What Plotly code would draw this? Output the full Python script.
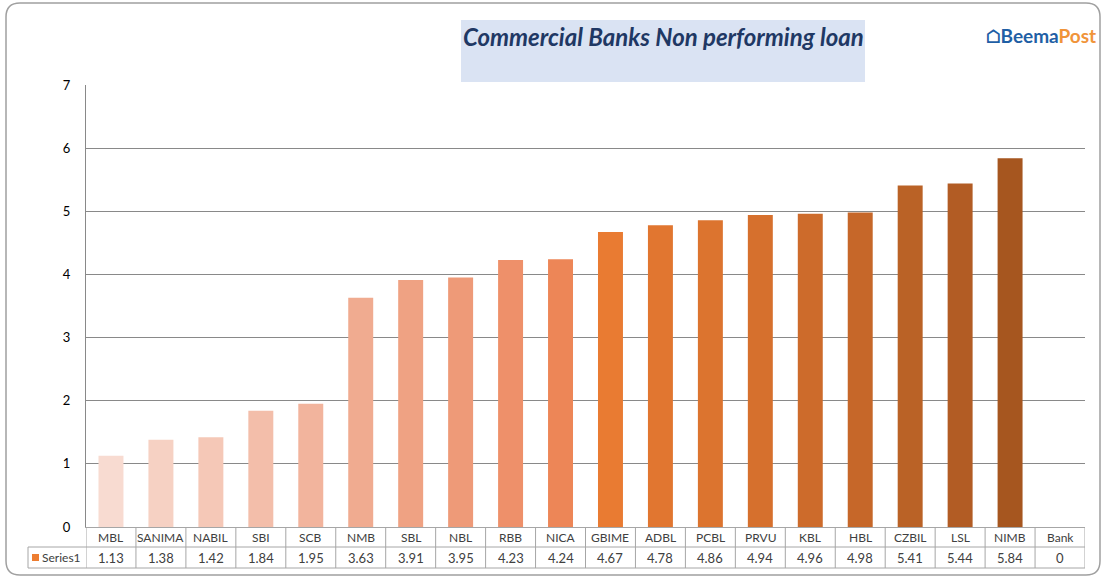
import plotly.graph_objects as go

banks = ["MBL", "SANIMA", "NABIL", "SBI", "SCB", "NMB", "SBL", "NBL", "RBB", "NICA",
         "GBIME", "ADBL", "PCBL", "PRVU", "KBL", "HBL", "CZBIL", "LSL", "NIMB", "Bank"]
npl = [1.13, 1.38, 1.42, 1.84, 1.95, 3.63, 3.91, 3.95, 4.23, 4.24,
       4.67, 4.78, 4.86, 4.94, 4.96, 4.98, 5.41, 5.44, 5.84, 0]
y_ticks = [0, 1, 2, 3, 4, 5, 6, 7]
series_name = "Series1"
title = "Commercial Banks Non performing loan"

bar_colors = ["#F8DBD1", "#F6D1C3", "#F5C8B7", "#F3BEAA", "#F2B49D", "#F0AB90", "#EFA283",
              "#EE9A78", "#EE906A", "#ED8657", "#E97B32", "#E17630", "#DC742F", "#D6702D",
              "#CD6B2B", "#C66729", "#BA6226", "#B25C24", "#A6561F", "#A6561F"]

W, H = 1105, 578
L, R, T, B = 86, 20, 85, 51
PW, PH = W - L - R, H - T - B

def px(x):
    return (x - L) / PW

def py(y):
    return (H - B - y) / PH

FONT = "Lato, Calibri, sans-serif"
grid_c = "#898989"
tab_c = "#A6A6A6"
txt_c = "#404040"

fig = go.Figure()
fig.add_trace(go.Bar(x=banks, y=npl, marker=dict(color=bar_colors, line=dict(width=0)),
                     width=0.5, name=series_name, showlegend=False, hoverinfo="x+y"))

shapes = []
annotations = []
n = len(banks)
# table lines
row1_top, row1_bot, row2_bot = 527, 547, 568
for i in range(n + 1):
    shapes.append(dict(type="line", xref="x", yref="paper", x0=i - 0.5, x1=i - 0.5,
                       y0=py(row1_top), y1=py(row2_bot), line=dict(color=tab_c, width=1)))
shapes.append(dict(type="line", xref="paper", yref="paper", x0=px(28), x1=px(28),
                   y0=py(row1_bot), y1=py(row2_bot), line=dict(color=tab_c, width=1)))
for yy in (row1_bot, row2_bot):
    shapes.append(dict(type="line", xref="paper", yref="paper", x0=px(28), x1=1,
                       y0=py(yy), y1=py(yy), line=dict(color=tab_c, width=1)))
# legend key
shapes.append(dict(type="rect", xref="paper", yref="paper", x0=px(32), x1=px(39),
                   y0=py(561), y1=py(554), fillcolor="#ED7D31", line=dict(width=0)))
annotations.append(dict(x=px(40), y=py(557.5), xref="paper", yref="paper", text=series_name,
                        showarrow=False, xanchor="left", yanchor="middle",
                        font=dict(family=FONT, size=12, color=txt_c)))
for b, v in zip(banks, npl):
    annotations.append(dict(x=b, y=py(537), xref="x", yref="paper", text=b, showarrow=False,
                            xanchor="center", yanchor="middle",
                            font=dict(family=FONT, size=12, color=txt_c)))
    annotations.append(dict(x=b, y=py(557.5), xref="x", yref="paper", text=f"{v:g}",
                            showarrow=False, xanchor="center", yanchor="middle",
                            font=dict(family=FONT, size=13, color=txt_c)))

# title box
shapes.append(dict(type="rect", xref="paper", yref="paper", x0=px(461), x1=px(865),
                   y0=py(82), y1=py(20), fillcolor="#DAE3F3", line=dict(width=0), layer="below"))
annotations.append(dict(x=px(663), y=py(37), xref="paper", yref="paper",
                        text="<b><i>" + title + "</i></b>", showarrow=False,
                        xanchor="center", yanchor="middle",
                        font=dict(family=FONT, size=24, color="#1F3864")))
# logo
annotations.append(dict(x=px(1098), y=py(36), xref="paper", yref="paper",
                        text="<b><span style='color:#1F5FA5'>\u2302Beema</span><span style='color:#F0943A'>Post</span></b>",
                        showarrow=False, xanchor="right", yanchor="middle",
                        font=dict(family=FONT, size=19)))

# outer rounded border
x0, x1, y0, y1, r = 6, 1100, 3, 575, 14
def P(x, y):
    return f"{px(x)} {py(y)}"
path = (f"M {P(x0 + r, y0)} L {P(x1 - r, y0)} Q {P(x1, y0)} {P(x1, y0 + r)} "
        f"L {P(x1, y1 - r)} Q {P(x1, y1)} {P(x1 - r, y1)} L {P(x0 + r, y1)} "
        f"Q {P(x0, y1)} {P(x0, y1 - r)} L {P(x0, y0 + r)} Q {P(x0, y0)} {P(x0 + r, y0)} Z")
shapes.append(dict(type="path", xref="paper", yref="paper", path=path,
                   line=dict(color="#A0A0A0", width=1.5)))

fig.update_layout(
    width=W, height=H,
    margin=dict(l=L, r=R, t=T, b=B),
    paper_bgcolor="white", plot_bgcolor="white",
    font=dict(family=FONT, color="#000000"),
    shapes=shapes, annotations=annotations,
    bargap=0.5, showlegend=False,
    xaxis=dict(showticklabels=False, showgrid=False, zeroline=False, showline=True,
               linecolor=tab_c, linewidth=1, ticks="", range=[-0.5, n - 0.5], fixedrange=True),
    yaxis=dict(range=[0, 7], tickvals=y_ticks, showgrid=True, gridcolor=grid_c, gridwidth=1,
               zeroline=False, showline=True, linecolor=grid_c, linewidth=1, ticks="",
               ticklabelstandoff=12, tickfont=dict(family=FONT, size=13, color="#000000")),
)

fig.write_html("out.html", config={"displayModeBar": False},
               post_script="document.body.style.margin='0';document.body.style.overflow='hidden';")
